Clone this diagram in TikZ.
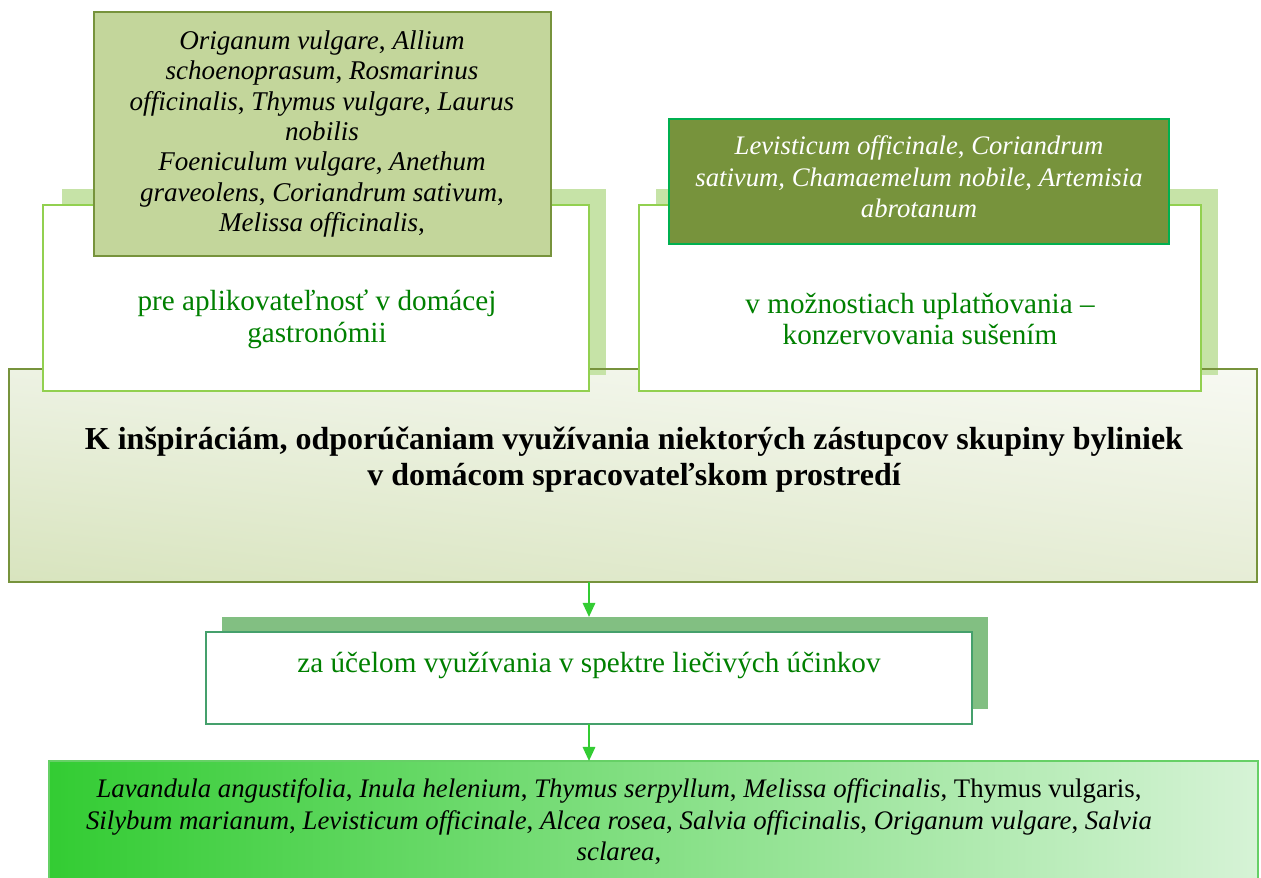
\documentclass[tikz,border=0pt]{standalone}
\usepackage{fontspec}
\setmainfont{Liberation Serif}
\usetikzlibrary{fit,arrows.meta,shadings}

\definecolor{oliveLight}{HTML}{C3D69B}
\definecolor{oliveDark}{HTML}{77933C}
\definecolor{leafGreen}{HTML}{00B050}
\definecolor{paleLime}{HTML}{92D050}
\definecolor{limeShadow}{HTML}{C6E3A7}
\definecolor{textGreen}{HTML}{008000}
\definecolor{sageShadow}{HTML}{82BF82}
\definecolor{sageLine}{HTML}{45A06C}
\definecolor{arrowGreen}{HTML}{33CC33}
\definecolor{mintEnd}{HTML}{D6F3D6}
\definecolor{mintLine}{HTML}{66D066}
\definecolor{panelUR}{HTML}{F7F9F2}
\definecolor{panelUL}{HTML}{EDF2E3}
\definecolor{panelLL}{HTML}{D8E4BE}
\definecolor{panelLR}{HTML}{E6EDD6}

\tikzset{
  box/.style={inner sep=0pt, outer sep=0pt, line width=1.4pt},
  topic/.style={box, draw=paleLime, fill=white},
  limeshadow/.style={box, fill=limeShadow},
  speciesA/.style={box, draw=oliveDark, fill=oliveLight},
  speciesB/.style={box, draw=leafGreen, fill=oliveDark},
  txt/.style={align=center, inner sep=0pt},
  flow/.style={draw=arrowGreen, line width=1.3pt, -{Triangle[length=8pt,width=7pt]}}
}

\begin{document}
\begin{tikzpicture}[x=0.02cm,y=-0.02cm]
\useasboundingbox (0,0) rectangle (1261,878);

% central title panel: fill first, frame drawn after the shadows
\node[box, fit={(9,369) (1257,582)},
      upper right=panelUR, upper left=panelUL,
      lower left=panelLL, lower right=panelLR] (core) {};

% shadows of the two upper boxes
\node[limeshadow, fit={(62,189) (606,375)}] (leftsh) {};
\node[limeshadow, fit={(656,189) (1218,375)}] (rightsh) {};

\draw[oliveDark, line width=1.6pt] (core.north west) rectangle (core.south east);

% the two upper topic boxes
\node[topic, fit={(43,205) (589,391)}] (lefttopic) {};
\node[topic, fit={(639,205) (1201,391)}] (righttopic) {};

% species lists on top of them
\node[speciesA, fit={(94,12) (551,256)}] (leftlist) {};
\node[speciesB, fit={(669,119) (1169,244)}] (rightlist) {};

\node[txt, font=\fontsize{15.4}{17.3}\selectfont\itshape] (leftlisttext) at (322,134)
  {Origanum vulgare\upshape, \itshape Allium\\
   schoenoprasum\upshape, \itshape Rosmarinus\\
   officinalis\upshape, \itshape Thymus vulgare\upshape, \itshape Laurus\\
   nobilis\\
   Foeniculum vulgare\upshape, \itshape Anethum\\
   graveolens\upshape, \itshape Coriandrum sativum\upshape,\\
   \itshape Melissa officinalis\upshape,};

\node[txt, text=white, font=\fontsize{15.2}{17.9}\selectfont\itshape] (rightlisttext) at (919,177)
  {Levisticum officinale\upshape, \itshape Coriandrum\\
   sativum, Chamaemelum nobile\upshape, \itshape Artemisia\\
   abrotanum};

\node[txt, text=textGreen, font=\fontsize{16.6}{18.2}\selectfont] (lefttopictext) at (317,319)
  {pre aplikovateľnosť v domácej\\ gastronómii};
\node[txt, text=textGreen, font=\fontsize{16.6}{18.2}\selectfont] (righttopictext) at (920,319)
  {v možnostiach uplatňovania –\\ konzervovania sušením};

\node[txt, font=\fontsize{18.2}{20.5}\selectfont\bfseries] (coretext) at (634,460)
  {K inšpiráciám, odporúčaniam využívania niektorých zástupcov skupiny byliniek\\
   v domácom spracovateľskom prostredí};

% medicinal-use box with its shadow
\node[box, fill=sageShadow, fit={(222,617) (988,709)}] (midsh) {};
\node[box, draw=sageLine, fill=white, fit={(206,632) (972,724)}] (mid) {};
\node[txt, text=textGreen, font=\fontsize{16.6}{18.2}\selectfont] (midtext) at (589,665)
  {za účelom využívania v spektre liečivých účinkov};

% bottom list of medicinal herbs
\node[box, draw=mintLine, left color=arrowGreen, right color=mintEnd,
      fit={(49,761) (1258,890)}] (herbs) {};
\node[txt, font=\fontsize{15.25}{17.9}\selectfont\itshape] (herbstext) at (619,822)
  {Lavandula angustifolia\upshape, \itshape Inula helenium\upshape, \itshape Thymus serpyllum\upshape, \itshape Melissa officinalis\upshape, Thymus vulgaris,\\
   \itshape Silybum marianum\upshape, \itshape Levisticum officinale\upshape, \itshape Alcea rosea\upshape, \itshape Salvia officinalis\upshape, \itshape Origanum vulgare\upshape, \itshape Salvia\\
   sclarea\upshape,};

% connectors
\draw[flow] (core.south -| mid.north) -- (midsh.north -| mid.north);
\draw[flow] (mid.south) -- (herbs.north -| mid.south);
\end{tikzpicture}
\end{document}
